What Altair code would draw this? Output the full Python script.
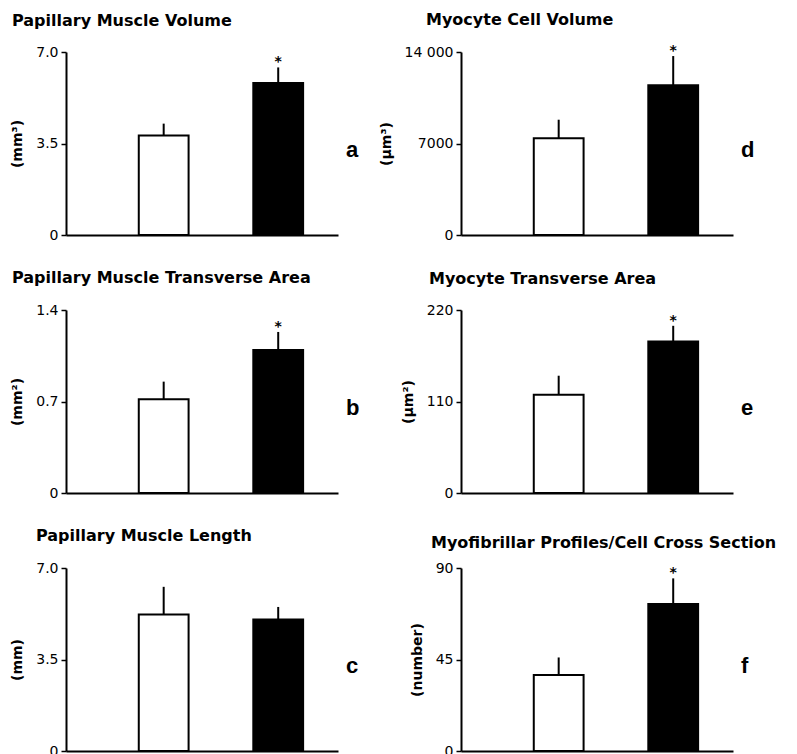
import altair as alt
import pandas as pd

# ---------------- data ----------------
groups = ["Control", "Hypertrophy"]
panel_letters = ["a", "b", "c", "d", "e", "f"]
titles = [
    "Papillary Muscle Volume",
    "Papillary Muscle Transverse Area",
    "Papillary Muscle Length",
    "Myocyte Cell Volume",
    "Myocyte Transverse Area",
    "Myofibrillar Profiles/Cell Cross Section",
]
units = ["(mm³)", "(mm²)", "(mm)", "(µm³)", "(µm²)", "(number)"]
tick_values = [
    [0, 3.5, 7.0],
    [0, 0.7, 1.4],
    [0, 3.5, 7.0],
    [0, 7000, 14000],
    [0, 110, 220],
    [0, 45, 90],
]
tick_labels = [
    ["0", "3.5", "7.0"],
    ["0", "0.7", "1.4"],
    ["0", "3.5", "7.0"],
    ["0", "7000", "14 000"],
    ["0", "110", "220"],
    ["0", "45", "90"],
]
control_mean = [3.81, 0.717, 5.22, 7410, 118, 37.4]
control_upper = [4.26, 0.852, 6.28, 8820, 141, 46.0]
treated_mean = [5.81, 1.094, 5.03, 11460, 182, 72.3]
treated_upper = [6.41, 1.232, 5.51, 13690, 201, 84.9]
significant = [True, True, False, True, True, True]

# ---------------- layout / style ----------------
PW, PH = 272, 183
title_dx = [-54, -54, -30, -35, -32, -30]
title_dy = [-26, -27, -27, -27, -26, -20]
FONT = "DejaVu Sans"


def label_expr(vals, labs):
    expr = "'" + labs[-1] + "'"
    for v, l in reversed(list(zip(vals[:-1], labs[:-1]))):
        expr = f"datum.value == {v} ? '{l}' : ({expr})"
    return expr


def panel(i):
    df = pd.DataFrame(
        {
            "group": groups,
            "mean": [control_mean[i], treated_mean[i]],
            "upper": [control_upper[i], treated_upper[i]],
            "star": ["", "*" if significant[i] else ""],
        }
    )
    ymax = tick_values[i][-1]
    x = alt.X(
        "group:N",
        scale=alt.Scale(domain=groups, paddingInner=0.565, paddingOuter=0.47, align=0.676),
        axis=alt.Axis(
            title=None, labels=False, ticks=False, domainColor="black", domainWidth=2
        ),
    )
    yscale = alt.Scale(domain=[0, ymax], nice=False)
    y = alt.Y(
        "mean:Q",
        scale=yscale,
        axis=alt.Axis(
            values=tick_values[i],
            labelExpr=label_expr(tick_values[i], tick_labels[i]),
            title=units[i],
            titleFont=FONT,
            titleFontWeight="bold",
            titleFontSize=14,
            titleColor="black",
            titlePadding=11,
            labelFont=FONT,
            labelFontSize=14,
            labelColor="black",
            labelPadding=3,
            tickColor="black",
            tickWidth=1.5,
            tickSize=5,
            domainColor="black",
            domainWidth=2,
            grid=False,
        ),
    )
    base = alt.Chart(df)
    bars = base.mark_bar(stroke="black", strokeWidth=2).encode(
        x=x,
        y=y,
        fill=alt.Fill(
            "group:N",
            scale=alt.Scale(domain=groups, range=["white", "black"]),
            legend=None,
        ),
    )
    err = base.mark_rule(color="black", strokeWidth=2).encode(
        x=x, y=alt.Y("mean:Q", scale=yscale), y2="upper:Q"
    )
    star = base.mark_text(
        font=FONT, fontSize=14, fontWeight="bold", baseline="alphabetic", dy=-1, color="black"
    ).encode(x=x, y=alt.Y("upper:Q", scale=yscale), text="star:N")
    lab_df = pd.DataFrame({"letter": [panel_letters[i]], "title": [titles[i]]})
    letter = alt.Chart(lab_df).mark_text(
        font="Liberation Sans", fontSize=22, fontWeight="bold", align="left",
        baseline="middle", color="black"
    ).encode(x=alt.value(PW + 8), y=alt.value(PH / 2 + 6), text="letter:N")
    ttl = alt.Chart(lab_df).mark_text(
        font=FONT, fontSize=16, fontWeight="bold", align="left",
        baseline="alphabetic", color="black"
    ).encode(x=alt.value(title_dx[i]), y=alt.value(title_dy[i]), text="title:N")
    return alt.layer(bars, err, star, letter, ttl).properties(width=PW, height=PH)


order = [0, 3, 1, 4, 2, 5]
chart = alt.concat(
    *[panel(i) for i in order],
    columns=2,
    spacing={"row": 75, "column": 123},
    bounds="flush",
).properties(
    padding={"left": 2, "top": 3, "right": 0, "bottom": 0},
    background="white",
).configure_view(stroke="transparent")

chart.save("out.html", embed_options={"renderer": "svg", "actions": False})
